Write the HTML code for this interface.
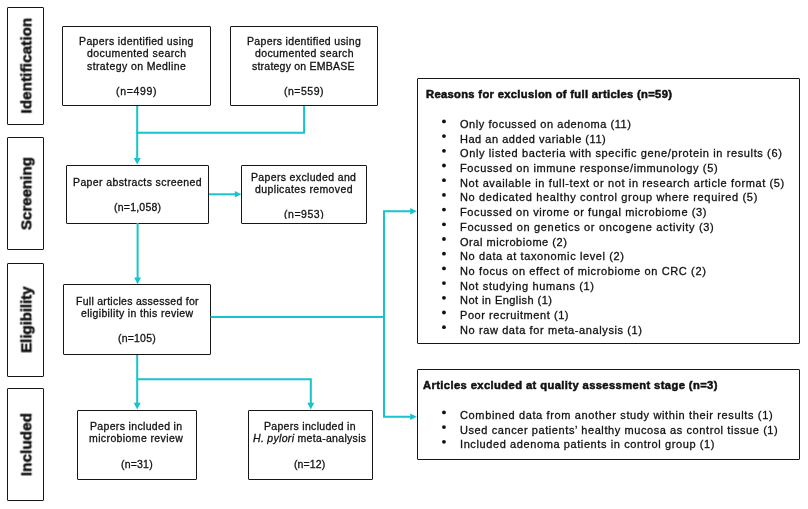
<!DOCTYPE html>
<html><head><meta charset="utf-8"><title>PRISMA flow diagram</title>
<style>
html,body{margin:0;padding:0;background:#fff;}
body{width:808px;height:509px;position:relative;overflow:hidden;font-family:"Liberation Sans",sans-serif;color:#111;}
.bx{position:absolute;box-sizing:border-box;border:1.5px solid #161616;border-radius:1px;}
.t{position:absolute;white-space:nowrap;will-change:transform;-webkit-text-stroke:0.3px #111;}
.tt{-webkit-text-stroke:0.5px #111;}
.vl{-webkit-text-stroke:0.5px #111;}
.bul{position:absolute;border-radius:50%;background:#111;}
.cn{position:absolute;left:0;top:0;}
</style></head><body>
<div class="bx" style="left:6.9px;top:6.8px;width:37.30px;height:117.80px"></div><div class="bx" style="left:6.9px;top:137.4px;width:37.30px;height:113.10px"></div><div class="bx" style="left:6.9px;top:263.3px;width:37.30px;height:113.50px"></div><div class="bx" style="left:6.9px;top:387.5px;width:37.30px;height:113.80px"></div><div class="bx" style="left:62.3px;top:26.0px;width:148.50px;height:80.00px"></div><div class="bx" style="left:230.2px;top:26.0px;width:148.20px;height:80.00px"></div><div class="bx" style="left:66.3px;top:164.7px;width:142.70px;height:59.10px"></div><div class="bx" style="left:241.2px;top:164.8px;width:125.70px;height:59.00px"></div><div class="bx" style="left:63.3px;top:284.3px;width:147.90px;height:71.20px"></div><div class="bx" style="left:77.2px;top:409.6px;width:119.40px;height:70.00px"></div><div class="bx" style="left:248.2px;top:409.6px;width:124.50px;height:70.00px"></div><div class="bx" style="left:417.2px;top:78.2px;width:382.80px;height:265.60px"></div><div class="bx" style="left:417.2px;top:368.6px;width:382.80px;height:91.00px"></div>
<svg class="cn" width="808" height="509" viewBox="0 0 808 509"><g fill="none" stroke="#17c4cb" stroke-width="2.0" stroke-linejoin="miter" stroke-linecap="butt"><polyline points="137.2,106 137.2,132.7 304.1,132.7 304.1,106"/><line x1="137.2" y1="132.7" x2="137.2" y2="159"/><line x1="209" y1="194.3" x2="236" y2="194.3"/><line x1="137.6" y1="223" x2="137.6" y2="279"/><line x1="210.5" y1="317" x2="384" y2="317"/><polyline points="411,211.2 384,211.2 384,416.8 411,416.8"/><line x1="137.2" y1="355" x2="137.2" y2="404"/><polyline points="137.2,379.2 310.8,379.2 310.8,404"/></g><g fill="#17c4cb"><polygon points="133.70,158.00 140.70,158.00 137.20,164.60"/><polygon points="234.80,191.00 234.80,197.60 241.40,194.30"/><polygon points="134.10,277.60 141.10,277.60 137.60,284.20"/><polygon points="410.20,207.90 410.20,214.50 416.80,211.20"/><polygon points="410.20,413.50 410.20,420.10 416.80,416.80"/><polygon points="133.70,402.80 140.70,402.80 137.20,409.40"/><polygon points="307.30,402.80 314.30,402.80 310.80,409.40"/></g><g fill="#111"><circle cx="443.95" cy="121.40" r="1.90"/><circle cx="443.95" cy="136.10" r="1.90"/><circle cx="443.95" cy="150.80" r="1.90"/><circle cx="443.95" cy="165.50" r="1.90"/><circle cx="443.95" cy="180.20" r="1.90"/><circle cx="443.95" cy="194.90" r="1.90"/><circle cx="443.95" cy="209.60" r="1.90"/><circle cx="443.95" cy="224.30" r="1.90"/><circle cx="443.95" cy="239.00" r="1.90"/><circle cx="443.95" cy="253.70" r="1.90"/><circle cx="443.95" cy="268.40" r="1.90"/><circle cx="443.95" cy="283.10" r="1.90"/><circle cx="443.95" cy="297.80" r="1.90"/><circle cx="443.95" cy="312.50" r="1.90"/><circle cx="443.95" cy="327.20" r="1.90"/><circle cx="443.95" cy="412.40" r="1.90"/><circle cx="443.95" cy="427.10" r="1.90"/><circle cx="443.95" cy="441.80" r="1.90"/></g></svg>
<div class="t vl" style="left:-74.37px;top:58.30px;width:200px;font-size:15.2px;line-height:15.2px;letter-spacing:0.101px;text-indent:0.101px;font-weight:700;text-align:center;transform:rotate(-90deg)">Identification</div><div class="t vl" style="left:-74.37px;top:186.45px;width:200px;font-size:15.2px;line-height:15.2px;letter-spacing:-0.037px;text-indent:-0.037px;font-weight:700;text-align:center;transform:rotate(-90deg)">Screening</div><div class="t vl" style="left:-74.37px;top:312.35px;width:200px;font-size:15.2px;line-height:15.2px;letter-spacing:-0.1px;text-indent:-0.1px;font-weight:700;text-align:center;transform:rotate(-90deg)">Eligibility</div><div class="t vl" style="left:-74.37px;top:437.00px;width:200px;font-size:15.2px;line-height:15.2px;letter-spacing:0.062px;text-indent:0.062px;font-weight:700;text-align:center;transform:rotate(-90deg)">Included</div><div class="t" style="left:79.00px;top:35.71px;font-size:10.5px;line-height:10.5px;letter-spacing:0.373px;font-weight:400;">Papers identified using</div><div class="t" style="left:86.70px;top:47.91px;font-size:10.5px;line-height:10.5px;letter-spacing:0.431px;font-weight:400;">documented search</div><div class="t" style="left:86.70px;top:60.81px;font-size:10.5px;line-height:10.5px;letter-spacing:0.403px;font-weight:400;">strategy on Medline</div><div class="t" style="left:115.90px;top:85.91px;font-size:10.5px;line-height:10.5px;letter-spacing:0.652px;font-weight:400;">(n=499)</div><div class="t" style="left:247.10px;top:35.71px;font-size:10.5px;line-height:10.5px;letter-spacing:0.342px;font-weight:400;">Papers identified using</div><div class="t" style="left:254.90px;top:47.91px;font-size:10.5px;line-height:10.5px;letter-spacing:0.393px;font-weight:400;">documented search</div><div class="t" style="left:251.70px;top:60.81px;font-size:10.5px;line-height:10.5px;letter-spacing:0.224px;font-weight:400;">strategy on EMBASE</div><div class="t" style="left:284.30px;top:85.91px;font-size:10.5px;line-height:10.5px;letter-spacing:0.504px;font-weight:400;">(n=559)</div><div class="t" style="left:72.50px;top:176.81px;font-size:10.5px;line-height:10.5px;letter-spacing:0.385px;font-weight:400;">Paper abstracts screened</div><div class="t" style="left:113.90px;top:201.61px;font-size:10.5px;line-height:10.5px;letter-spacing:0.220px;font-weight:400;">(n=1,058)</div><div class="t" style="left:251.30px;top:171.51px;font-size:10.5px;line-height:10.5px;letter-spacing:0.348px;font-weight:400;">Papers excluded and</div><div class="t" style="left:254.70px;top:183.71px;font-size:10.5px;line-height:10.5px;letter-spacing:0.381px;font-weight:400;">duplicates removed</div><div class="t" style="left:283.90px;top:208.61px;font-size:10.5px;line-height:10.5px;letter-spacing:0.532px;font-weight:400;height:9.79px;overflow:hidden;">(n=953)</div><div class="t" style="left:75.90px;top:295.81px;font-size:10.5px;line-height:10.5px;letter-spacing:0.280px;font-weight:400;">Full articles assessed for</div><div class="t" style="left:81.10px;top:308.21px;font-size:10.5px;line-height:10.5px;letter-spacing:0.348px;font-weight:400;">eligibility in this review</div><div class="t" style="left:117.90px;top:333.21px;font-size:10.5px;line-height:10.5px;letter-spacing:0.196px;font-weight:400;">(n=105)</div><div class="t" style="left:90.30px;top:421.11px;font-size:10.5px;line-height:10.5px;letter-spacing:0.336px;font-weight:400;">Papers included in</div><div class="t" style="left:88.50px;top:433.41px;font-size:10.5px;line-height:10.5px;letter-spacing:0.388px;font-weight:400;">microbiome review</div><div class="t" style="left:120.90px;top:458.51px;font-size:10.5px;line-height:10.5px;letter-spacing:0.200px;font-weight:400;">(n=31)</div><div class="t" style="left:263.70px;top:421.11px;font-size:10.5px;line-height:10.5px;letter-spacing:0.302px;font-weight:400;">Papers included in</div><div class="t" style="left:252.90px;top:433.41px;font-size:10.5px;line-height:10.5px;letter-spacing:0.311px;font-weight:400;"><i>H. pylori</i> meta-analysis</div><div class="t" style="left:293.90px;top:458.91px;font-size:10.5px;line-height:10.5px;letter-spacing:0.100px;font-weight:400;">(n=12)</div><div class="t tt" style="left:425.70px;top:88.52px;font-size:11.2px;line-height:11.2px;letter-spacing:0.326px;font-weight:700;">Reasons for exclusion of full articles (n=59)</div><div class="t tt" style="left:422.70px;top:379.92px;font-size:11.2px;line-height:11.2px;letter-spacing:0.398px;font-weight:700;">Articles excluded at quality assessment stage (n=3)</div><div class="t" style="left:460.00px;top:118.59px;font-size:11px;line-height:11px;letter-spacing:0.542px;font-weight:400;">Only focussed on adenoma (11)</div><div class="t" style="left:460.00px;top:134.29px;font-size:11px;line-height:11px;letter-spacing:0.528px;font-weight:400;">Had an added variable (11)</div><div class="t" style="left:460.00px;top:147.99px;font-size:11px;line-height:11px;letter-spacing:0.625px;font-weight:400;">Only listed bacteria with specific gene/protein in results (6)</div><div class="t" style="left:460.00px;top:162.69px;font-size:11px;line-height:11px;letter-spacing:0.615px;font-weight:400;">Focussed on immune response/immunology (5)</div><div class="t" style="left:460.00px;top:178.39px;font-size:11px;line-height:11px;letter-spacing:0.614px;font-weight:400;">Not available in full-text or not in research article format (5)</div><div class="t" style="left:460.00px;top:192.09px;font-size:11px;line-height:11px;letter-spacing:0.649px;font-weight:400;">No dedicated healthy control group where required (5)</div><div class="t" style="left:460.00px;top:206.79px;font-size:11px;line-height:11px;letter-spacing:0.597px;font-weight:400;">Focussed on virome or fungal microbiome (3)</div><div class="t" style="left:460.00px;top:222.49px;font-size:11px;line-height:11px;letter-spacing:0.666px;font-weight:400;">Focussed on genetics or oncogene activity (3)</div><div class="t" style="left:460.00px;top:237.19px;font-size:11px;line-height:11px;letter-spacing:0.537px;font-weight:400;">Oral microbiome (2)</div><div class="t" style="left:460.00px;top:250.89px;font-size:11px;line-height:11px;letter-spacing:0.616px;font-weight:400;">No data at taxonomic level (2)</div><div class="t" style="left:460.00px;top:265.59px;font-size:11px;line-height:11px;letter-spacing:0.632px;font-weight:400;">No focus on effect of microbiome on CRC (2)</div><div class="t" style="left:460.00px;top:281.29px;font-size:11px;line-height:11px;letter-spacing:0.642px;font-weight:400;">Not studying humans (1)</div><div class="t" style="left:460.00px;top:294.99px;font-size:11px;line-height:11px;letter-spacing:0.441px;font-weight:400;">Not in English (1)</div><div class="t" style="left:460.00px;top:309.69px;font-size:11px;line-height:11px;letter-spacing:0.562px;font-weight:400;">Poor recruitment (1)</div><div class="t" style="left:460.00px;top:325.39px;font-size:11px;line-height:11px;letter-spacing:0.604px;font-weight:400;">No raw data for meta-analysis (1)</div><div class="t" style="left:460.00px;top:409.59px;font-size:11px;line-height:11px;letter-spacing:0.636px;font-weight:400;">Combined data from another study within their results (1)</div><div class="t" style="left:460.00px;top:425.29px;font-size:11px;line-height:11px;letter-spacing:0.583px;font-weight:400;">Used cancer patients’ healthy mucosa as control tissue (1)</div><div class="t" style="left:460.00px;top:438.99px;font-size:11px;line-height:11px;letter-spacing:0.600px;font-weight:400;">Included adenoma patients in control group (1)</div>
</body></html>
